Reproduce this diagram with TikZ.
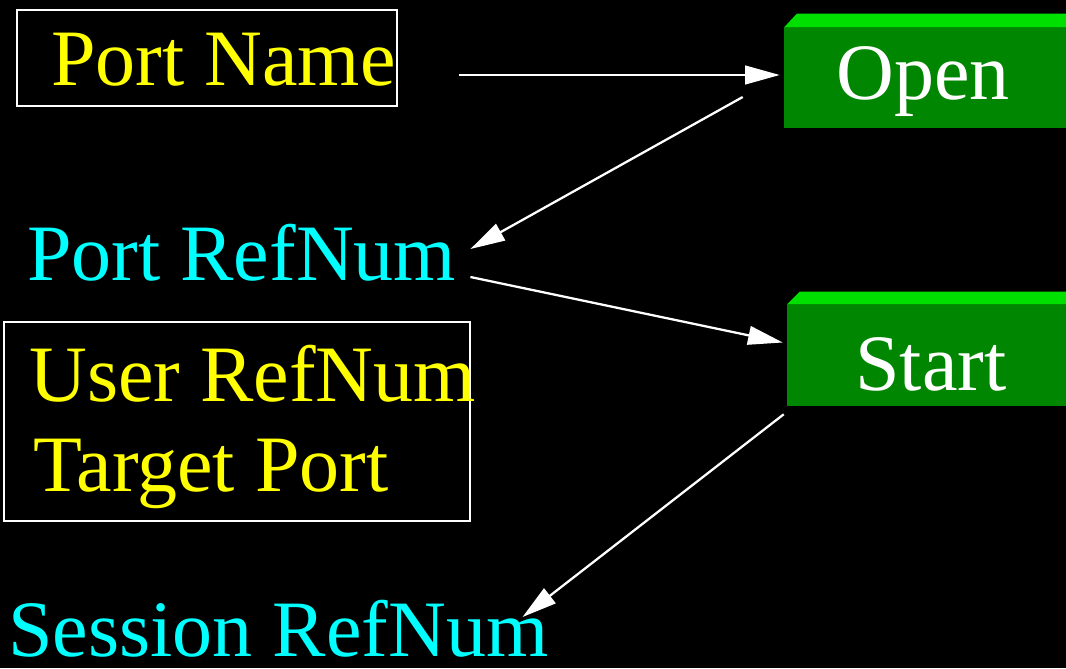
\documentclass[tikz,border=0pt]{standalone}
\usepackage{fontspec}
\setmainfont{Liberation Serif}
\usetikzlibrary{arrows.meta,calc,fit}
\definecolor{frontgreen}{RGB}{0,134,0}
\definecolor{topgreen}{RGB}{0,224,0}
\definecolor{lblyellow}{RGB}{255,255,0}
\definecolor{lblcyan}{RGB}{0,255,255}
\tikzset{
  lbl/.style={inner sep=0pt, anchor=base west, font=\fontsize{60}{70}\selectfont},
  framebox/.style={draw=white, line width=1.6pt, inner sep=0pt},
  frontface/.style={fill=frontgreen, inner sep=0pt},
  topface/.style={fill=topgreen},
  arr/.style={draw=white, line width=1.7pt, -{Triangle[length=26pt,width=14pt]}}
}
\begin{document}
\begin{tikzpicture}[x=0.75pt,y=-0.75pt]
\fill[black] (0,0) rectangle (1066,668);
\useasboundingbox (0,0) rectangle (1066,668);
% framed boxes
\node[framebox, fit={(17,10) (397,106)}] (pn) {};
\node[lbl, text=lblyellow] (pntext) at (51,85) {Port Name};
\node[framebox, fit={(4,322) (470,521)}] (ub) {};
\node[lbl, text=lblyellow] (urn) at (29,401) {User RefNum};
\node[lbl, text=lblyellow] (tp) at (33,491) {Target Port};
% cyan labels
\node[lbl, text=lblcyan] (prn) at (27,280) {Port RefNum};
\node[lbl, text=lblcyan] (srn) at (8,656) {Session RefNum};
% green 3D boxes
\node[frontface, fit={(784,28) (1070,128)}] (open) {};
\fill[topface] (open.north west) -- ++(13,-14) -- ++(280,0) -- (open.north east) -- cycle;
\node[lbl, text=white] (opentext) at (836,99) {Open};
\node[frontface, fit={(787,305) (1070,406)}] (start) {};
\fill[topface] (start.north west) -- ++(13,-13) -- ++(280,0) -- (start.north east) -- cycle;
\node[lbl, text=white] (starttext) at (855,390) {Start};
% connectors
\draw[arr] ($(pn.east)+(61,17)$) -- ($(open.west)+(-4,-3)$);
\draw[arr] ($(open.west)+(-41,19)$) -- ($(prn.base east)+(14,-31)$);
\draw[arr] ($(prn.base east)+(14,-3)$) -- ($(start.west)+(-4,-13)$);
\draw[arr] ($(start.south west)+(-3,8)$) -- ($(srn.base east)+(-26,-39)$);
\end{tikzpicture}
\end{document}
